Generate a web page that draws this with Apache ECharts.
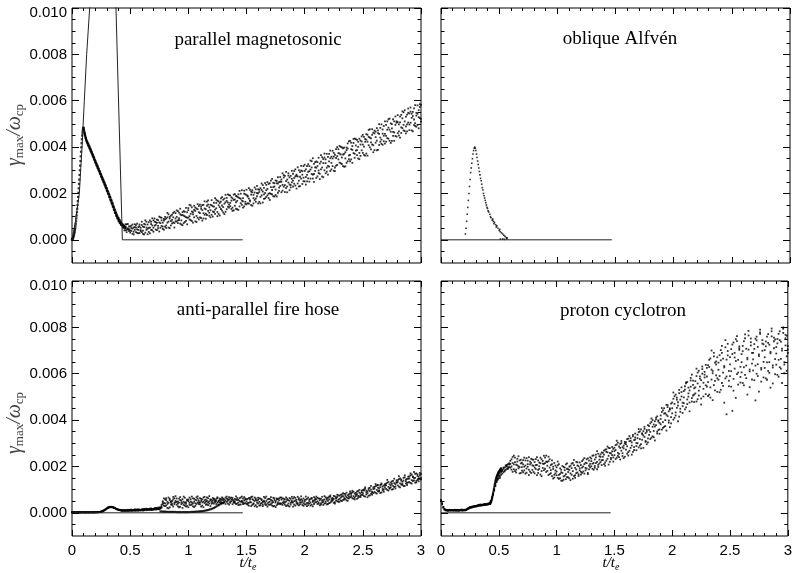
<!DOCTYPE html>
<html>
<head>
<meta charset="utf-8">
<script src="https://cdn.jsdelivr.net/npm/echarts@6/dist/echarts.min.js"></script>
<style>html,body{margin:0;padding:0;background:#fff}#c{width:795px;height:573px}</style>
</head>
<body>
<div id="c"></div>
<script>
// all values are gamma_max/omega_cp in units of 1e-5, sampled in t/t_e
const UNIT = 1e-5;
const STEP = 0.01;

// ---- parallel magnetosonic ----
// early narrow peak, start 0, step 0.0025
const magRise = [0,2,4,7,10,14,18,23,29,35,42,50,59,69,80,92,105,119,134,150,167,185,203,222,241,260,280,300,320,340,360,380,399,417,434,450,463,473,480,483,480,474,468,462,456,450,445,440,435];
// decay after the peak, start 0.125, step 0.005
const magDecay = [428,422,416,410,405,399,393,387,381,375,369,363,357,351,344,338,332,326,320,314,308,302,296,290,284,278,272,266,260,254,248,242,235,229,223,216,210,204,198,191,185,178,171,164,157,150,143,136,129,122,116,110,104,98,93,88,83,79,75,71,68,65,62,59,57,55,53,51];
// two tight tracks along the decay, start 0.10, step 0.01
const magEarlyA = [484,452,440,418,414,396,391,372,366,347,342,322,318,298,295,273,270,250,246,224,222,198,197,171,170,143,143,115,118,92,95,72,78,62,66];
const magEarlyB = [475,460,430,425,406,403,383,379,359,355,334,330,309,306,285,283,261,259,237,234,210,209,184,185,157,158,128,130,103,105,80,86,64,70,52];
// scatter cloud, start 0.45, step 0.01
const magA = [
61,41,67,46,58,
41,61,26,53,67,33,45,55,29,52,
64,26,55,84,43,24,76,53,68,41,
52,92,44,73,85,36,72,95,57,83,
88,62,116,53,99,81,109,75,53,115,
79,124,93,110,66,119,104,77,138,95,
137,102,148,81,119,97,139,77,132,119,
97,134,83,151,135,113,165,125,104,151,
149,100,160,130,173,120,149,105,165,184,
141,178,121,168,196,139,159,183,125,172,
197,162,186,129,180,199,151,180,212,164,
153,190,223,170,150,205,194,172,218,188,
200,164,223,215,161,196,245,185,220,241,
201,255,215,188,244,256,187,242,211,251,
260,212,279,236,253,205,277,269,236,298,
255,297,234,281,313,255,232,299,281,253,
297,238,318,265,296,342,284,264,328,297,
267,318,354,285,337,312,270,355,331,311,
358,316,385,304,351,298,367,353,323,391,
333,401,355,395,315,378,398,339,425,366,
391,332,418,371,434,365,401,436,362,424,
375,444,363,432,423,408,477,390,453,378,
459,419,482,388,457,483,414,458,449,511,
448,511,436,475,418,499,520,463,496,445,
508,450,531,485,554,472,511,459,540,506,
497,553,472,534,495,581,536,496,559,525,582];
const magB = [
41,57,43,68,46,
58,38,48,23,55,63,30,43,66,37,
33,57,23,66,78,48,34,84,43,62,
84,61,76,42,60,100,52,84,74,44,
57,92,74,110,50,104,86,116,72,92,
127,84,117,70,106,63,124,101,82,119,
96,151,85,122,110,147,80,135,95,146,
152,94,128,115,166,91,147,152,117,128,
108,145,120,180,136,169,112,159,133,148,
173,111,162,132,161,193,145,133,179,195,
147,189,132,183,144,177,214,166,144,196,
194,158,178,216,208,147,180,226,164,202,
157,216,185,243,208,177,202,237,192,180,
244,198,263,227,187,217,254,203,249,232,
205,287,229,276,223,260,247,214,276,248,
285,242,274,221,273,300,292,264,241,318,
252,304,280,326,251,303,339,281,250,335,
338,274,299,329,365,273,348,300,287,371,
319,371,297,359,318,375,296,391,361,347,
372,330,399,318,371,351,332,394,364,427,
347,404,374,437,385,431,351,375,428,386,
453,402,435,372,453,474,399,438,411,462,
387,467,428,460,409,423,498,410,491,457,
496,439,484,523,466,427,466,511,448,511,
460,498,441,539,482,550,469,531,498,566,
545,505,544,468,567,503,488,580,529,573,510];
const magC = [
57,67,33,50,38,
31,51,66,35,43,53,70,28,58,42,
78,40,69,31,53,66,52,28,78,93,
35,78,65,87,50,75,97,60,47,90,
99,51,97,79,92,62,71,97,121,80,
99,72,85,134,84,107,72,121,98,67,
128,88,112,140,74,129,125,103,154,88,
115,143,150,92,108,132,107,170,140,97,
171,122,143,112,159,102,166,141,179,126,
118,156,194,181,143,152,191,169,139,127,
174,134,168,196,211,158,169,139,199,155,
216,186,156,166,195,214,157,204,178,233,
218,206,157,192,236,224,179,214,249,199,
172,227,196,246,230,193,244,270,225,271,
250,237,269,206,293,230,287,239,226,263,
230,267,304,276,243,230,272,319,296,268,
324,271,252,293,318,264,312,352,284,313,
311,335,288,262,304,356,331,372,347,294,
281,338,352,332,384,359,312,320,400,374,
405,368,327,368,398,317,387,416,348,339,
419,388,435,354,407,387,423,348,411,446,
411,366,423,456,363,444,441,420,477,408,
471,443,386,472,499,441,432,476,425,415,
424,475,520,427,502,481,448,427,532,505,
538,468,507,461,524,496,559,489,468,548,
473,571,526,552,519,491,548,544,481,585,522];
// thin line of the parallel magnetosonic panel
const magLineT = [0,0.03,0.063,0.086,0.106,0.126,0.152,0.26,0.378,0.433,1.468];
const magLineV = [0,80,200,400,600,800,1000,3000,1000,0,0];
// zero line drawn in the other panels
const baseT = [0,1.468];
const baseV = [0,0];

// ---- oblique Alfven ----
const alfT = [0.21,0.215,0.22,0.225,0.23,0.235,0.24,0.245,0.25,0.255,0.26,0.265,0.27,0.275,0.28,0.285,0.29,0.295,0.30,0.305,0.31,0.315,0.32,0.325,0.33,0.335,0.34,0.345,0.35,0.355,0.36,0.365,0.37,0.375,0.38,0.385,0.39,0.395,0.40,0.405,0.41,0.42,0.425,0.43,0.44,0.445,0.45,0.455,0.46,0.47,0.475,0.48,0.49,0.50,0.505,0.51,0.52,0.53,0.54,0.55,0.56,0.565,0.57,0.51,0.53,0.545];
const alfV = [25,50,80,110,140,170,200,230,260,290,310,330,350,370,385,395,400,395,385,370,355,340,325,310,295,280,265,255,240,225,215,200,190,180,170,160,150,140,135,125,120,110,100,95,85,90,80,70,75,65,55,60,50,40,45,35,30,25,20,15,10,5,8,3,4,2];

// ---- anti-parallel fire hose, start 0, step 0.01 ----
const hoseA = [
2,3,1,2,3,2,1,3,2,2, 3,2,1,3,2,2,3,1,2,3, 2,3,2,4,3,5,6,9,12,16,
20,22,25,24,26,23,21,19,17,14, 13,11,12,9,11,8,12,10,9,13, 10,14,9,12,15,10,13,9,14,11,
12,16,11,15,18,12,16,13,19,14, 16,20,14,19,22,15,21,35,50,42,
58,31,47,66,24,49,40,69,37,52, 35,49,61,26,53,42,70,31,46,57,
50,66,33,45,28,61,41,54,71,38, 44,27,58,48,69,35,52,63,40,55,
56,43,61,49,38,67,52,45,59,41, 62,45,53,70,40,57,48,66,37,54,
49,71,40,56,63,36,52,45,68,42, 58,35,64,46,29,59,41,66,33,53,
40,63,32,54,47,69,36,51,27,60, 35,56,43,65,30,50,62,38,54,41,
57,34,61,45,29,55,40,64,36,51, 44,68,31,56,42,63,37,59,48,30,
55,36,60,43,51,31,64,47,38,62, 46,65,39,54,41,69,34,58,49,63,
52,70,44,61,56,73,46,66,50,75, 60,78,51,72,64,81,54,76,62,84,
69,88,61,83,72,92,65,87,74,96, 77,101,70,96,84,106,75,100,88,110,
90,115,83,109,96,120,88,113,100,124, 103,130,96,123,110,135,102,128,114,140,
118,145,110,139,125,151,116,143,129,156, 133,162,126,154,140,168,131,159,145,172,150];
const hoseB = [
3,1,2,3,1,2,3,2,1,3, 1,3,2,2,3,1,2,3,2,1, 3,2,3,2,4,4,7,10,13,17,
18,23,23,26,24,25,22,20,16,15, 12,13,10,11,9,12,8,11,13,9, 13,8,12,10,9,14,10,15,11,13,
15,10,17,13,11,17,14,18,12,17, 13,18,21,15,17,23,18,28,38,62,
29,55,21,43,60,36,51,27,63,45, 62,28,44,55,37,21,48,65,39,30,
24,43,59,36,62,48,30,67,44,53, 63,51,31,66,42,57,37,46,72,29,
47,64,40,55,60,44,35,62,50,57, 41,58,66,47,59,35,63,50,56,44,
60,38,55,44,35,66,47,61,40,58, 38,60,43,57,68,34,55,28,62,44,
56,31,61,42,29,48,64,34,58,45, 60,37,52,28,63,44,33,59,40,66,
39,62,42,58,67,33,54,27,60,46, 61,35,53,40,69,32,55,44,34,62,
37,57,29,66,40,59,35,53,68,45, 59,38,62,32,60,45,55,40,67,36,
65,42,69,48,53,43,71,54,68,47, 74,53,79,56,82,60,68,52,80,67,
85,63,91,66,78,60,94,70,68,89, 98,72,104,79,92,74,108,82,78,103,
112,86,118,93,105,85,122,97,91,117, 126,99,133,107,119,100,138,111,105,132,
141,113,148,122,134,115,153,127,120,147, 157,129,165,137,150,130,170,142,136,163,144];
const hoseC = [
2,2,3,1,2,3,2,1,3,2, 2,1,3,2,1,3,2,2,3,2, 2,2,4,3,3,6,5,8,11,14,
19,21,24,25,25,24,23,21,18,16, 14,12,11,10,12,10,11,9,10,11, 11,12,10,13,11,12,14,11,12,10,
13,14,12,16,14,15,13,16,15,13, 17,15,18,20,16,19,24,22,45,31,
41,63,38,19,54,46,33,58,44,72, 47,40,24,68,45,59,34,43,27,54,
57,35,49,70,41,25,56,38,61,46, 36,60,45,24,54,47,67,33,49,58,
39,52,58,46,51,63,48,55,42,66, 55,49,38,61,52,68,43,57,64,47,
43,57,64,33,51,48,70,38,53,62, 49,42,31,63,45,70,38,51,56,26,
65,47,39,58,36,52,43,70,41,35, 48,68,31,46,55,25,57,45,62,37,
66,44,50,35,48,61,30,52,43,69, 27,50,64,47,36,57,46,71,54,41,
48,70,42,33,58,44,62,28,52,56, 70,50,44,61,35,53,47,72,42,57,
38,58,75,53,64,60,40,62,78,57, 48,66,70,85,57,73,87,64,71,92,
77,95,72,58,86,80,73,99,83,77, 85,96,110,88,67,99,93,116,91,85,
104,124,99,120,92,111,127,104,118,109, 118,142,112,104,131,125,116,147,124,130,
133,158,127,144,120,139,162,136,146,131, 148,170,141,157,176,151,138,166,155,147,168];
// lower branch, start 0.76, step 0.01
const hoseLow = [6,6,5,5,5,5,4,4,4,4,4,4,4,4,3,3,3,3,3,3,3,3,3,3,3,3,4,4,4,4,5,5,5,6,6,7,7,8,9,10,11,12,14,15,17,19,21,24,27,30,33,36,39,42,45];

// ---- proton cyclotron, start 0, step 0.01 ----
const cycA = [
56,42,26,17,13,11,12,10,13,11, 10,12,11,9,13,10,12,11,14,10, 11,13,12,16,20,24,22,27,25,29,
27,31,29,34,30,35,32,37,33,36, 39,36,43,52,68,84,102,124,138,150,
163,158,181,169,190,183,205,189,210,197, 224,186,215,247,180,208,233,192,226,172,
182,227,199,169,236,210,186,221,172,205, 229,170,206,240,185,217,165,231,194,211,
214,247,181,223,167,206,158,199,152,204, 162,205,146,192,175,138,198,160,209,154,
188,149,203,164,215,158,194,171,218,166, 192,165,223,178,210,183,231,172,225,196,
234,190,248,202,239,188,255,213,241,206, 259,210,272,225,261,208,279,237,265,221,
281,232,295,246,286,230,301,257,290,242, 305,255,320,268,311,251,330,283,316,270,
337,282,351,296,343,280,362,310,350,304, 374,318,392,330,381,312,403,350,394,341,
420,359,442,371,430,355,456,398,445,386, 476,402,503,420,488,395,516,449,502,431,
525,446,558,469,540,438,571,495,552,478, 568,480,605,506,589,467,620,535,596,512,
625,504,660,541,618,486,675,569,640,522, 648,520,702,560,665,475,714,588,679,546,
672,544,726,578,690,496,741,605,703,562, 685,560,740,595,708,510,765,618,722,575,
690,572,751,600,716,523,778,625,730,584, 702,580,760,612,725,540,783,636,740,598,
715,595,772,628,738,560,794,650,753,612,720];
const cycB = [
50,36,22,14,10,13,9,12,10,12, 12,9,13,11,10,12,9,13,11,12, 13,10,15,19,18,21,26,23,28,26,
30,28,33,31,36,32,35,34,38,34, 35,40,38,47,60,76,96,115,132,142,
149,170,164,185,175,196,186,207,196,214, 195,231,177,209,238,186,221,201,170,229,
216,175,238,204,191,225,163,209,233,185, 176,219,189,163,226,201,238,180,212,184,
238,176,219,163,231,184,210,148,215,170, 196,151,210,168,139,202,157,184,145,190,
153,199,170,212,147,206,162,220,174,201, 217,177,195,229,169,216,191,235,187,211,
201,246,215,194,251,220,207,244,219,260, 228,268,217,274,233,280,220,256,284,239,
249,292,238,303,254,280,310,245,278,306, 273,318,262,331,280,304,336,271,325,288,
300,348,290,360,315,334,371,306,357,321, 336,386,324,400,353,372,411,342,399,360,
382,435,366,451,400,423,465,389,450,413, 429,492,410,510,453,477,530,436,521,460,
473,546,455,564,501,528,582,480,570,510, 515,590,490,613,544,572,631,502,608,550,
545,637,510,666,575,602,690,528,653,580, 574,680,531,720,605,633,745,425,698,612,
590,706,440,735,622,655,762,553,718,630, 606,720,550,753,635,669,785,542,736,644,
614,728,485,760,641,676,790,566,745,651, 625,739,574,771,650,688,795,558,756,663,
639,750,587,783,664,700,800,602,768,675,690];
const cycC = [
53,39,24,15,12,10,11,12,11,10, 11,10,12,13,11,9,11,12,10,13, 12,12,14,17,22,23,24,25,27,28,
29,30,31,33,33,34,34,36,35,37, 37,38,41,50,64,80,99,118,135,146,
158,151,176,180,195,179,199,201,190,208, 211,200,241,188,219,174,205,244,197,213,
197,209,183,226,173,199,240,178,215,230, 203,195,232,207,172,190,214,158,224,246,
190,221,203,242,195,171,226,189,164,183, 178,221,164,150,186,172,143,195,167,213,
176,185,141,193,180,228,151,187,204,159, 183,206,172,200,236,194,214,167,203,239,
223,212,186,230,214,266,198,229,252,227, 242,251,203,263,286,246,258,231,249,276,
266,271,311,259,240,297,268,283,236,299, 296,287,247,309,322,290,263,314,342,301,
322,361,318,278,339,352,327,344,296,378, 358,349,407,371,326,395,378,416,357,388,
405,452,391,428,374,466,417,438,370,471, 451,519,470,433,497,462,415,488,541,475,
498,531,563,489,515,476,544,596,506,537, 541,622,558,527,579,493,600,561,584,638,
588,564,629,497,700,612,551,648,593,671, 617,590,658,690,548,627,580,661,729,570,
640,611,685,527,670,749,598,660,710,586, 650,697,628,770,581,662,704,610,752,690,
662,707,635,744,590,683,772,618,699,727, 671,718,649,733,604,694,761,627,710,748,
687,731,660,745,622,708,776,640,722,764,705];
// steep rise near t=0.45, start 0.42, step 0.0025
const cycRise = [38,39,40,42,44,47,50,54,59,64,70,76,82,89,96,103,110,117,124,130,136,141,146,150,154,157,160,163,166,169,172,174,176,178,180,182,184,186,188,190,192];

// axes
const xMin = 0, xMax = 3, xInterval = 0.5;
const yMin = -0.001, yMax = 0.010;
const yMajor = [0, 0.002, 0.004, 0.006, 0.008, 0.010];
const yMinor = [-0.0005,0.0005,0.001,0.0015,0.0025,0.003,0.0035,0.0045,0.005,0.0055,0.0065,0.007,0.0075,0.0085,0.009,0.0095];
const titles = ['parallel magnetosonic', 'oblique Alfvén', 'anti-parallel fire hose', 'proton cyclotron'];

function seq(arr, start, step) {
  return arr.map((v, i) => [+(start + i * step).toFixed(4), v * UNIT]);
}
function pairs(ts, vs) {
  return ts.map((t, i) => [t, vs[i] * UNIT]);
}

const chart = echarts.init(document.getElementById('c'));
const grids = [
  {left: 72, top: 8, width: 349, height: 255},
  {left: 441, top: 8, width: 349, height: 255},
  {left: 72, top: 281, width: 349, height: 255},
  {left: 441, top: 281, width: 349, height: 255}
].map(g => Object.assign(g, {show: true, borderColor: '#000', borderWidth: 1, backgroundColor: 'transparent'}));

const FONT = 'Liberation Sans';
const xAxes = [], yAxes = [];
for (let g = 0; g < 4; g++) {
  for (const pos of ['bottom', 'top']) {
    xAxes.push({
      type: 'value', gridIndex: g, position: pos, min: xMin, max: xMax, interval: xInterval,
      axisLine: {show: false, onZero: false}, splitLine: {show: false},
      axisTick: {show: true, inside: true, length: 6, lineStyle: {color: '#000', width: 1}},
      minorTick: {show: true, splitNumber: 5, length: 3, lineStyle: {color: '#000', width: 1}},
      axisLabel: {show: pos === 'bottom' && g >= 2, fontFamily: FONT, fontSize: 15, color: '#000', margin: 7,
                  showMinLabel: true, showMaxLabel: true}
    });
  }
  for (const pos of ['left', 'right']) {
    yAxes.push({
      type: 'value', gridIndex: g, position: pos, min: yMin, max: yMax,
      axisLine: {show: false, onZero: false}, splitLine: {show: false},
      axisTick: {show: true, inside: true, length: 7, customValues: yMajor, lineStyle: {color: '#000', width: 1}},
      axisLabel: {show: pos === 'left' && g % 2 === 0, customValues: yMajor,
                  formatter: v => Math.abs(v - 0.01) < 1e-9 ? '{top|0.010}' : v.toFixed(3),
                  rich: {top: {fontFamily: FONT, fontSize: 15, color: '#000', padding: [9, 0, 0, 0]}},
                  fontFamily: FONT, fontSize: 15, color: '#000', margin: 5}
    });
    yAxes.push({
      type: 'value', gridIndex: g, position: pos, min: yMin, max: yMax,
      axisLine: {show: false, onZero: false}, splitLine: {show: false},
      axisTick: {show: true, inside: true, length: 3.5, customValues: yMinor, lineStyle: {color: '#000', width: 1}},
      axisLabel: {show: false}
    });
  }
}

const dot = {type: 'scatter', symbol: 'rect', symbolSize: 1.8, itemStyle: {color: '#000'}, silent: true, animation: false};
const line = {type: 'line', symbol: 'none', lineStyle: {color: '#222', width: 1}, silent: true, animation: false, clip: true};
function sc(g, data, extra) { return Object.assign({}, dot, {xAxisIndex: g * 2, yAxisIndex: g * 4, data}, extra || {}); }
function ln(g, data) { return Object.assign({}, line, {xAxisIndex: g * 2, yAxisIndex: g * 4, data}); }

const series = [
  sc(0, seq(magRise, 0, 0.0025), {symbolSize: 2.2}),
  sc(0, seq(magDecay, 0.125, 0.005), {symbolSize: 2.4}),
  sc(0, seq(magEarlyA, 0.10, STEP)), sc(0, seq(magEarlyB, 0.10, STEP)),
  sc(0, seq(magA, 0.45, STEP)), sc(0, seq(magB, 0.45, STEP)), sc(0, seq(magC, 0.45, STEP)),
  ln(0, pairs(magLineT, magLineV)),
  ln(1, pairs(baseT, baseV)),
  sc(1, pairs(alfT, alfV), {symbolSize: 1.6}),
  sc(2, seq(hoseA, 0, STEP)), sc(2, seq(hoseB, 0, STEP)), sc(2, seq(hoseC, 0, STEP)),
  sc(2, seq(hoseLow, 0.76, STEP), {symbolSize: 2}),
  ln(2, pairs(baseT, baseV)),
  sc(3, seq(cycA, 0, STEP)), sc(3, seq(cycB, 0, STEP)), sc(3, seq(cycC, 0, STEP)),
  sc(3, seq(cycRise, 0.42, 0.0025), {symbolSize: 2}),
  ln(3, pairs(baseT, baseV))
];

const titlePos = [[258, 40], [620, 39], [258, 310], [623, 311]];
const graphic = titles.map((t, i) => ({
  type: 'text', x: titlePos[i][0], y: titlePos[i][1], silent: true,
  style: {text: t, font: '19px "Liberation Serif"', fill: '#000', textAlign: 'center', textVerticalAlign: 'middle'}
}));
const yNameRich = {
  g: {fontFamily: 'Liberation Serif', fontStyle: 'italic', fontSize: 20, lineHeight: 22, verticalAlign: 'middle', fill: '#444', color: '#444'},
  s: {fontFamily: 'Liberation Serif', fontSize: 13, lineHeight: 12, verticalAlign: 'bottom', fill: '#444', color: '#444'}
};
[[15, 135], [15, 423]].forEach(p => graphic.push({
  type: 'text', x: p[0], y: p[1], rotation: Math.PI / 2, silent: true,
  style: {text: '{g|γ}{s|max}{g|/ω}{s|cp}', rich: yNameRich, textAlign: 'center', textVerticalAlign: 'middle', fill: '#444'}
}));
const xNameRich = {
  i: {fontFamily: 'Liberation Serif', fontStyle: 'italic', fontSize: 15, lineHeight: 18, verticalAlign: 'middle', fill: '#000', color: '#000'},
  s: {fontFamily: 'Liberation Serif', fontStyle: 'italic', fontSize: 10, lineHeight: 10, verticalAlign: 'bottom', fill: '#000', color: '#000'}
};
[[248, 563], [611, 563]].forEach(p => graphic.push({
  type: 'text', x: p[0], y: p[1], silent: true,
  style: {text: '{i|t/t}{s|e}', rich: xNameRich, textAlign: 'center', textVerticalAlign: 'middle', fill: '#000'}
}));

chart.setOption({
  animation: false,
  backgroundColor: '#fff',
  grid: grids,
  xAxis: xAxes,
  yAxis: yAxes,
  series,
  graphic
});
</script>
</body>
</html>
